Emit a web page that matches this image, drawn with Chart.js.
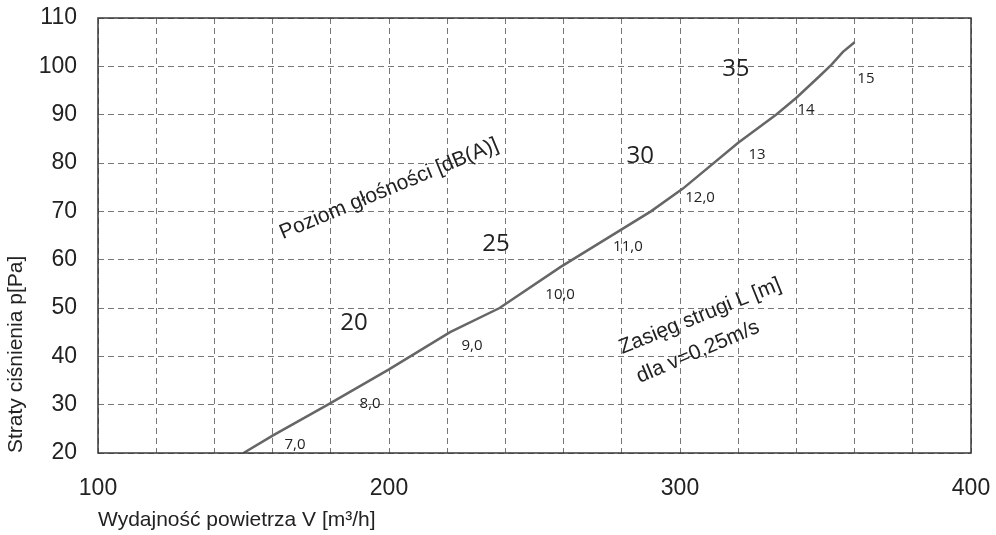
<!DOCTYPE html>
<html>
<head>
<meta charset="utf-8">
<script src="https://cdn.jsdelivr.net/npm/chart.js@4.4.1/dist/chart.umd.min.js"></script>
<style>
  html, body { margin: 0; padding: 0; background: #fff; }
</style>
</head>
<body>
<canvas id="chart" width="996" height="535"></canvas>
<script>
// curve: airflow [m3/h] vs pressure loss [Pa]
const airflow = [150, 160, 179, 200, 221, 238, 259, 290, 301, 320, 333, 340, 348, 352, 356, 360];
const pressure = [20, 23.6, 30, 37.3, 45, 50, 58.5, 70, 74.7, 84.2, 90, 93.5, 98, 100.3, 103, 105];
const xTickLabels = [100, 200, 300, 400];

// noise level zones [dB(A)] and throw lengths along the curve
const noiseLevels = ['20', '25', '30', '35'];
const noiseAt = [[188, 46.8], [236.8, 63.2], [286.3, 81.5], [319.2, 99.5]];
const throwLengths = ['7,0', '8,0', '9,0', '10,0', '11,0', '12,0', '13', '14', '15'];
const throwAt = [[167.7, 21.7], [193.5, 30.1], [228.5, 42.1], [258.8, 52.7], [282.1, 62.6],
                 [306.9, 72.8], [326.5, 81.7], [343.3, 91.0], [363.9, 97.4]];

const notes = [];
noiseLevels.forEach((t, i) => notes.push({ text: t, x: noiseAt[i][0], y: noiseAt[i][1], font: '24px "Open Sans"' }));
throwLengths.forEach((t, i) => notes.push({ text: t, x: throwAt[i][0], y: throwAt[i][1], font: '15px "Open Sans"' }));
notes.push({ text: 'Poziom głośności [dB(A)]', x: 200.0, y: 74.6, angle: -22.5, font: '21px "Liberation Sans"' });
notes.push({ text: 'Zasięg strugi L [m]', x: 306.9, y: 48.3, angle: -22, font: '21px "Liberation Sans"' });
notes.push({ text: 'dla v=0,25m/s', x: 306.2, y: 40.9, angle: -23, font: '21px "Liberation Sans"' });

const notesPlugin = {
  id: 'notes',
  afterDatasetsDraw(chart, args, opts) {
    const { ctx, chartArea: a } = chart;
    const { x, y } = chart.scales;
    ctx.save();
    ctx.strokeStyle = '#3a3a3a';
    ctx.lineWidth = 1.5;
    ctx.strokeRect(a.left, a.top, a.right - a.left, a.bottom - a.top);
    ctx.fillStyle = '#222';
    ctx.textAlign = 'center';
    ctx.textBaseline = 'middle';
    opts.items.forEach(it => {
      ctx.save();
      ctx.translate(x.getPixelForValue(it.x), y.getPixelForValue(it.y));
      if (it.angle) ctx.rotate(it.angle * Math.PI / 180);
      ctx.font = it.font;
      ctx.fillText(it.text, 0, 0);
      ctx.restore();
    });
    ctx.restore();
  }
};

const tickFont = { family: '"Liberation Sans", Arial', size: 23 };
const titleFont = { family: '"Liberation Sans", Arial', size: 21 };

new Chart(document.getElementById('chart'), {
  type: 'line',
  data: {
    datasets: [{
      data: airflow.map((v, i) => ({ x: v, y: pressure[i] })),
      borderColor: '#666',
      borderWidth: 2.5,
      pointRadius: 0,
      tension: 0,
    }],
  },
  options: {
    responsive: false,
    animation: false,
    layout: { padding: { top: 18, right: 25, left: 0, bottom: 0 } },
    plugins: {
      legend: { display: false },
      tooltip: { enabled: false },
      notes: { items: notes },
    },
    scales: {
      x: {
        type: 'linear',
        min: 100,
        max: 400,
        // tick marks kept invisible, their length gives the gap to the labels
        grid: { color: '#777', lineWidth: 1, tickLength: 22, tickColor: 'transparent' },
        border: { display: false, dash: [6, 4] },
        ticks: {
          stepSize: 20,
          autoSkip: false,
          maxRotation: 0,
          padding: 0,
          color: '#222',
          font: tickFont,
          callback: v => (xTickLabels.includes(v) ? String(v) : ''),
        },
        title: {
          display: true,
          text: 'Wydajność powietrza V [m³/h]',
          align: 'start',
          color: '#222',
          font: titleFont,
          padding: { top: 0, bottom: 2 },
        },
        afterFit: s => { s.height = 82; },
      },
      y: {
        min: 20,
        max: 110,
        grid: { color: '#777', lineWidth: 1, tickLength: 21, tickColor: 'transparent' },
        border: { display: false, dash: [6, 4] },
        ticks: { stepSize: 10, padding: 0, color: '#222', font: tickFont },
        title: {
          display: true,
          text: 'Straty ciśnienia p[Pa]',
          align: 'start',
          color: '#222',
          font: titleFont,
          padding: { top: 4, bottom: 0 },
        },
        afterFit: s => { s.width = 98; },
      },
    },
  },
  plugins: [notesPlugin],
});
</script>
</body>
</html>
